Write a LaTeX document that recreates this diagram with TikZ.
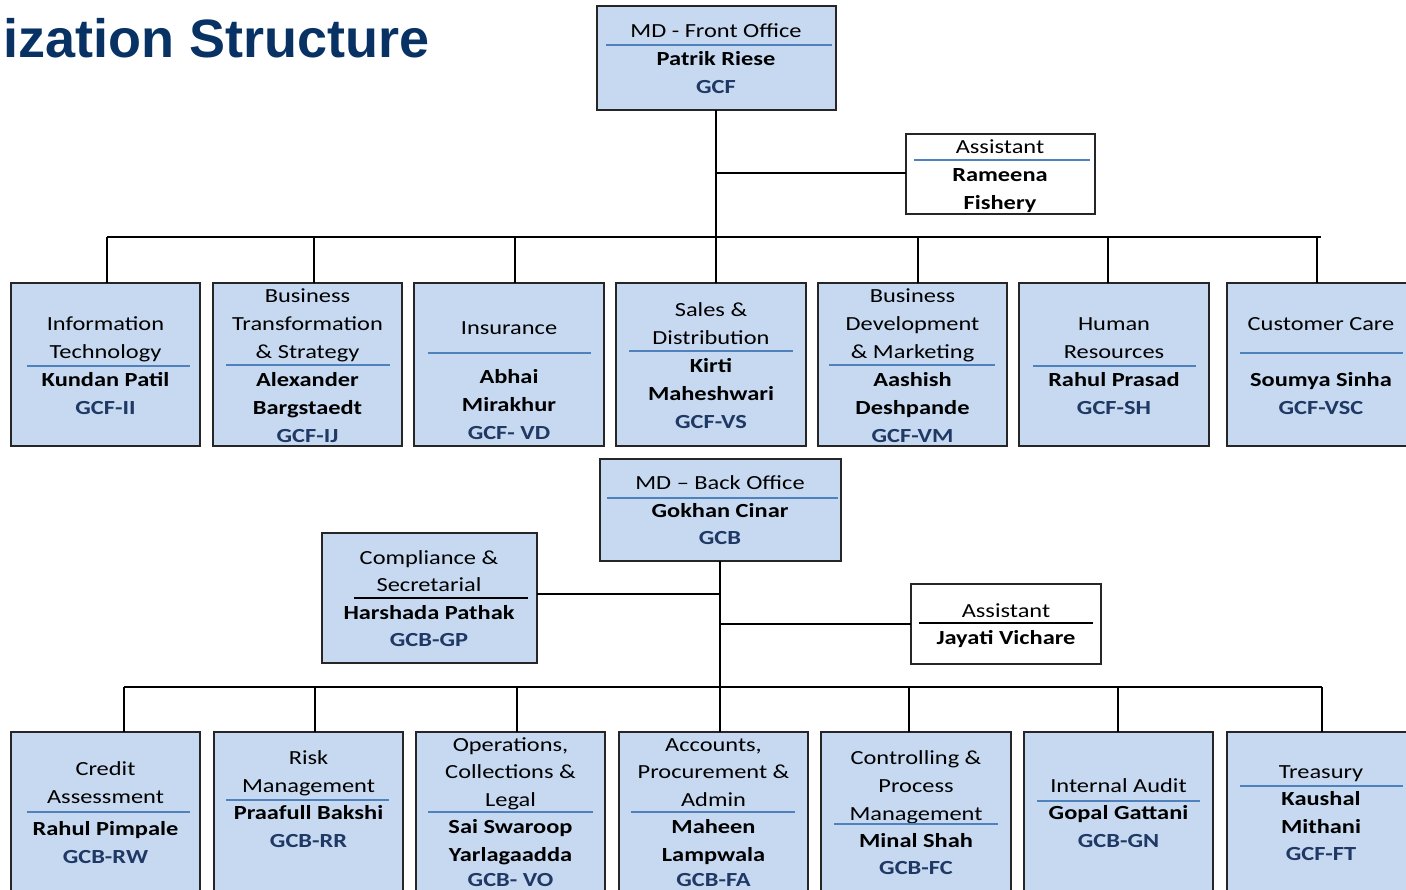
\documentclass[tikz,border=0pt]{standalone}
\usepackage{fontspec}
\setmainfont{Carlito}[FakeStretch=1.22]
\newfontfamily\titlefont{Liberation Sans}
\definecolor{boxfill}{RGB}{198,217,241}
\definecolor{divline}{RGB}{79,129,189}
\definecolor{codeblue}{RGB}{31,56,100}
\definecolor{titleblue}{RGB}{8,50,100}
\newcommand\ubox[6]{\node[#6, minimum width={(#4-#2)*0.75pt}, minimum height={(#5-#3)*0.75pt}] (#1) at ({(#2+#4)/2},{(#3+#5)/2}) {};}
\newcommand\tl[5]{\node[#4] (#1) at (#2,{#3+7.5}) {#5};}
\newcommand\dv[4]{\draw[divider] (#1,#4) -- (#2,#4);}
\begin{document}
\begin{tikzpicture}[x=0.75pt,y=-0.75pt,
  bluebox/.style={draw=black!85, line width=1.1pt, fill=boxfill, inner sep=0pt, outer sep=0pt},
  whitebox/.style={draw=black!85, line width=1.1pt, fill=white, inner sep=0pt, outer sep=0pt},
  conn/.style={draw=black, line width=1.4pt},
  divider/.style={draw=divline, line width=1.3pt},
  ttl/.style={anchor=base, inner sep=0pt, font=\fontsize{15}{18}\selectfont},
  nm/.style={ttl, font=\fontsize{15}{18}\selectfont\bfseries},
  cd/.style={ttl, font=\fontsize{15}{18}\selectfont\bfseries, text=codeblue}]
\useasboundingbox (0,0) rectangle (1406,889);
% title
\node[anchor=base east, inner sep=0pt, font=\titlefont\bfseries\fontsize{40.5}{44}\selectfont, text=titleblue] (title) at (430,57) {ization Structure};
% ---------- Front office ----------
\ubox{mdf}{597}{6}{836}{110}{bluebox}
\ubox{asf}{906}{134}{1095}{214}{whitebox}
\coordinate (jF) at (716,237);
\coordinate (aF) at (716,173);
\coordinate (busFL) at (107,237);
\coordinate (busFR) at (1321,237);
\draw[conn] (jF |- mdf.south) -- (jF);
\draw[conn] (aF) -- (aF -| asf.west);
\draw[conn] (busFL) -- (busFR);
\ubox{f1}{11}{283}{200}{446}{bluebox}
\ubox{f2}{213}{283}{402}{446}{bluebox}
\ubox{f3}{414}{283}{604}{446}{bluebox}
\ubox{f4}{616}{283}{806}{446}{bluebox}
\ubox{f5}{818}{283}{1007}{446}{bluebox}
\ubox{f6}{1019}{283}{1209}{446}{bluebox}
\ubox{f7}{1227}{283}{1422}{446}{bluebox}
\coordinate (tf1) at (107,237);
\coordinate (tf2) at (314,237);
\coordinate (tf3) at (515,237);
\coordinate (tf4) at (716,237);
\coordinate (tf5) at (918,237);
\coordinate (tf6) at (1108,237);
\coordinate (tf7) at (1317,237);
\foreach \i in {1,...,7}{\draw[conn] (tf\i) -- (tf\i |- f\i.north);}
% texts
\tl{mdfa}{716}{30}{ttl}{MD - Front Office}
\dv{606}{832}{}{45}
\tl{mdfb}{716}{58}{nm}{Patrik Riese}
\tl{mdfc}{716}{86}{cd}{GCF}
\tl{asfa}{1000}{146}{ttl}{Assistant}
\dv{914}{1090}{}{160}
\tl{asfb}{1000}{174}{nm}{Rameena}
\tl{asfc}{1000}{202}{nm}{Fishery}
% row 1
\tl{f1a}{105.5}{323}{ttl}{Information}
\tl{f1b}{105.5}{351}{ttl}{Technology}
\dv{27}{190}{}{366}
\tl{f1c}{105.5}{379}{nm}{Kundan Patil}
\tl{f1d}{105.5}{407}{cd}{GCF-II}
\tl{f2a}{307.5}{295}{ttl}{Business}
\tl{f2b}{307.5}{323}{ttl}{Transformation}
\tl{f2c}{307.5}{351}{ttl}{\& Strategy}
\dv{226}{390}{}{365}
\tl{f2d}{307.5}{379}{nm}{Alexander}
\tl{f2e}{307.5}{407}{nm}{Bargstaedt}
\tl{f2f}{307.5}{435}{cd}{GCF-IJ}
\tl{f3a}{509}{327}{ttl}{Insurance}
\dv{428}{591}{}{353}
\tl{f3b}{509}{376}{nm}{Abhai}
\tl{f3c}{509}{404}{nm}{Mirakhur}
\tl{f3d}{509}{432}{cd}{GCF- VD}
\tl{f4a}{711}{309}{ttl}{Sales \&}
\tl{f4b}{711}{337}{ttl}{Distribution}
\dv{629}{793}{}{351}
\tl{f4c}{711}{365}{nm}{Kirti}
\tl{f4d}{711}{393}{nm}{Maheshwari}
\tl{f4e}{711}{421}{cd}{GCF-VS}
\tl{f5a}{912.5}{295}{ttl}{Business}
\tl{f5b}{912.5}{323}{ttl}{Development}
\tl{f5c}{912.5}{351}{ttl}{\& Marketing}
\dv{829}{995}{}{365}
\tl{f5d}{912.5}{379}{nm}{Aashish}
\tl{f5e}{912.5}{407}{nm}{Deshpande}
\tl{f5f}{912.5}{435}{cd}{GCF-VM}
\tl{f6a}{1114}{323}{ttl}{Human}
\tl{f6b}{1114}{351}{ttl}{Resources}
\dv{1033}{1196}{}{366}
\tl{f6c}{1114}{379}{nm}{Rahul Prasad}
\tl{f6d}{1114}{407}{cd}{GCF-SH}
\tl{f7a}{1321}{323}{ttl}{Customer Care}
\dv{1240}{1403}{}{353}
\tl{f7b}{1321}{379}{nm}{Soumya Sinha}
\tl{f7c}{1321}{407}{cd}{GCF-VSC}
% ---------- Back office ----------
\ubox{mdb}{600}{459}{841}{561}{bluebox}
\ubox{cmp}{322}{533}{537}{663}{bluebox}
\ubox{asb}{911}{584}{1101}{664}{whitebox}
\coordinate (jB) at (720,687);
\coordinate (cB) at (720,594);
\coordinate (aB) at (720,624);
\coordinate (busBL) at (124,687);
\coordinate (busBR) at (1322,687);
\draw[conn] (mdb.south -| jB) -- (jB);
\draw[conn] (cB) -- (cB -| cmp.east);
\draw[conn] (aB) -- (aB -| asb.west);
\draw[conn] (busBL) -- (busBR);
\ubox{b1}{11}{732}{200}{905}{bluebox}
\ubox{b2}{214}{732}{403}{905}{bluebox}
\ubox{b3}{416}{732}{605}{905}{bluebox}
\ubox{b4}{619}{732}{808}{905}{bluebox}
\ubox{b5}{821}{732}{1011}{905}{bluebox}
\ubox{b6}{1024}{732}{1213}{905}{bluebox}
\ubox{b7}{1227}{732}{1422}{905}{bluebox}
\coordinate (tb1) at (124,687);
\coordinate (tb2) at (315,687);
\coordinate (tb3) at (517,687);
\coordinate (tb4) at (720,687);
\coordinate (tb5) at (909,687);
\coordinate (tb6) at (1118,687);
\coordinate (tb7) at (1322,687);
\foreach \i in {1,...,7}{\draw[conn] (tb\i) -- (tb\i |- b\i.north);}
\tl{mdba}{720}{482}{ttl}{MD – Back Office}
\dv{607}{838}{}{498}
\tl{mdbb}{720}{510}{nm}{Gokhan Cinar}
\tl{mdbc}{720}{537}{cd}{GCB}
\tl{cmpa}{429}{557}{ttl}{Compliance \&}
\tl{cmpb}{429}{584}{ttl}{Secretarial}
\draw[draw=black, line width=1.3pt] (354,598) -- (528,598);
\tl{cmpc}{429}{612}{nm}{Harshada Pathak}
\tl{cmpd}{429}{639}{cd}{GCB-GP}
\tl{asba}{1006}{610}{ttl}{Assistant}
\draw[draw=black, line width=1.3pt] (919,623) -- (1093,623);
\tl{asbb}{1006}{637}{nm}{Jayati Vichare}
% row 2
\tl{b1a}{105.5}{768}{ttl}{Credit}
\tl{b1b}{105.5}{796}{ttl}{Assessment}
\dv{27}{190}{}{812}
\tl{b1c}{105.5}{828}{nm}{Rahul Pimpale}
\tl{b1d}{105.5}{856}{cd}{GCB-RW}
\tl{b2a}{308.5}{757}{ttl}{Risk}
\tl{b2b}{308.5}{785}{ttl}{Management}
\dv{226}{389}{}{800}
\tl{b2c}{308.5}{812}{nm}{Praafull Bakshi}
\tl{b2d}{308.5}{840}{cd}{GCB-RR}
\tl{b3a}{510.5}{744}{ttl}{Operations,}
\tl{b3b}{510.5}{771}{ttl}{Collections \&}
\tl{b3c}{510.5}{799}{ttl}{Legal}
\dv{428}{593}{}{812}
\tl{b3d}{510.5}{826}{nm}{Sai Swaroop}
\tl{b3e}{510.5}{854}{nm}{Yarlagaadda}
\tl{b3f}{510.5}{879}{cd}{GCB- VO}
\tl{b4a}{713.5}{744}{ttl}{Accounts,}
\tl{b4b}{713.5}{771}{ttl}{Procurement \&}
\tl{b4c}{713.5}{799}{ttl}{Admin}
\dv{631}{795}{}{812}
\tl{b4d}{713.5}{826}{nm}{Maheen}
\tl{b4e}{713.5}{854}{nm}{Lampwala}
\tl{b4f}{713.5}{879}{cd}{GCB-FA}
\tl{b5a}{916}{757}{ttl}{Controlling \&}
\tl{b5b}{916}{785}{ttl}{Process}
\tl{b5c}{916}{813}{ttl}{Management}
\dv{834}{998}{}{824}
\tl{b5d}{916}{840}{nm}{Minal Shah}
\tl{b5e}{916}{867}{cd}{GCB-FC}
\tl{b6a}{1118.5}{785}{ttl}{Internal Audit}
\dv{1037}{1200}{}{801}
\tl{b6b}{1118.5}{812}{nm}{Gopal Gattani}
\tl{b6c}{1118.5}{840}{cd}{GCB-GN}
\tl{b7a}{1321}{771}{ttl}{Treasury}
\dv{1240}{1403}{}{786}
\tl{b7b}{1321}{798}{nm}{Kaushal}
\tl{b7c}{1321}{826}{nm}{Mithani}
\tl{b7d}{1321}{853}{cd}{GCF-FT}
\end{tikzpicture}
\end{document}
